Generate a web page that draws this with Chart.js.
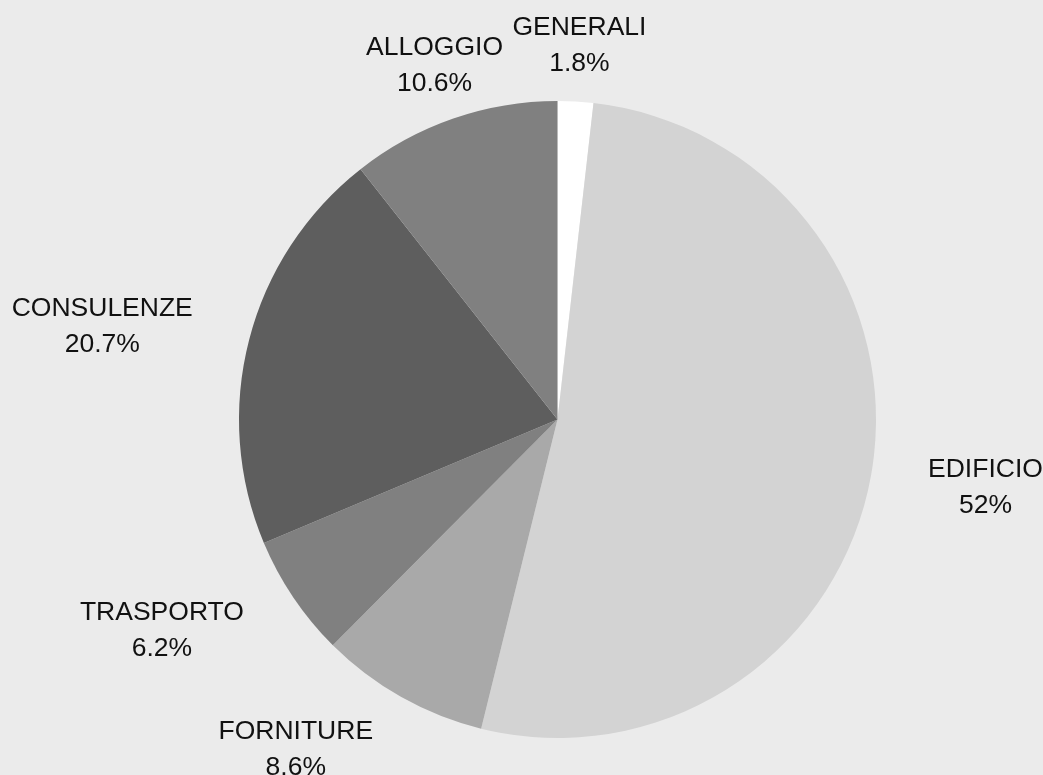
<!DOCTYPE html>
<html>
<head>
<meta charset="utf-8">
<script src="https://cdn.jsdelivr.net/npm/chart.js@4/dist/chart.umd.min.js"></script>
<style>
  html, body { margin: 0; padding: 0; background: #ebebeb; }
  #wrap { width: 1043px; height: 775px; }
</style>
</head>
<body>
<div id="wrap"><canvas id="c" width="1043" height="775"></canvas></div>
<script>
// ---- data ----
const categories = ["GENERALI", "EDIFICIO", "FORNITURE", "TRASPORTO", "CONSULENZE", "ALLOGGIO"];
const shares = [1.8, 52, 8.6, 6.2, 20.7, 10.6];
const percentLabels = ["1.8%", "52%", "8.6%", "6.2%", "20.7%", "10.6%"];
const sliceColors = ["#ffffff", "#d3d3d3", "#a9a9a9", "#808080", "#5e5e5e", "#808080"];

// label placement relative to each slice (multiples of the pie radius, degree shifts)
const labelRadiusFactor = [1.18, 1.36, 1.318, 1.405, 1.46, 1.18];
const labelAngleShift = [0.1, -1.3, 9.2, 6.1, -2.75, 0];

const outsideLabels = {
  id: 'outsideLabels',
  afterDatasetsDraw(chart) {
    const ctx = chart.ctx;
    const meta = chart.getDatasetMeta(0);
    ctx.save();
    ctx.font = '26.5px "Liberation Sans", Arial, sans-serif';
    ctx.fillStyle = '#111111';
    ctx.textAlign = 'center';
    ctx.textBaseline = 'alphabetic';
    meta.data.forEach((arc, i) => {
      const p = arc.getProps(['x', 'y', 'startAngle', 'endAngle', 'outerRadius'], true);
      const mid = (p.startAngle + p.endAngle) / 2 + labelAngleShift[i] * Math.PI / 180;
      const r = p.outerRadius * labelRadiusFactor[i];
      const cx = p.x + Math.cos(mid) * r;
      const cy = p.y + Math.sin(mid) * r;
      ctx.fillText(categories[i], cx, cy - 9);
      ctx.fillText(percentLabels[i], cx, cy + 27);
    });
    ctx.restore();
  }
};

new Chart(document.getElementById('c'), {
  type: 'pie',
  data: {
    labels: categories,
    datasets: [{
      data: shares,
      backgroundColor: sliceColors,
      borderWidth: 0
    }]
  },
  options: {
    responsive: false,
    animation: false,
    layout: { padding: { left: 239, right: 167, top: 101, bottom: 37 } },
    plugins: {
      legend: { display: false },
      tooltip: { enabled: false }
    }
  },
  plugins: [outsideLabels]
});
</script>
</body>
</html>
